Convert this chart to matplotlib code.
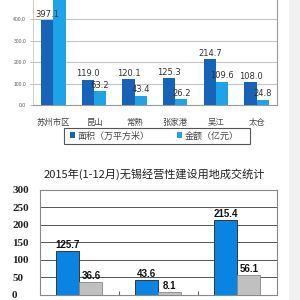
import matplotlib
matplotlib.use("Agg")
import matplotlib.pyplot as plt
import numpy as np
from matplotlib.patches import Rectangle

plt.rcParams['font.family'] = ['Noto Sans CJK SC', 'DejaVu Sans']

# ---- top chart data ----
top_categories = ["苏州市区", "昆山", "常熟", "张家港", "吴江", "太仓"]
top_area = [397.1, 119.0, 120.1, 125.3, 214.7, 108.0]
top_amount = [560.0, 63.2, 43.4, 26.2, 109.6, 24.8]
top_series = ["面积（万平方米）", "金额（亿元）"]
top_yticks = [0, 100, 200, 300, 400, 500]

# ---- bottom chart data ----
bottom_title = "2015年(1-12月)无锡经营性建设用地成交统计"
bottom_area = [125.7, 43.6, 215.4]
bottom_amount = [36.6, 8.1, 56.1]
bottom_yticks = [0, 50, 100, 150, 200, 250, 300]

fig = plt.figure(figsize=(3, 3), dpi=100)
fig.patch.set_facecolor("white")
fig.patches.append(Rectangle((0.963, 0), 0.037, 1, transform=fig.transFigure,
                             facecolor="#f1f1f1", edgecolor="none", zorder=0))

# ---------- top axes ----------
ymax_top = 505
ax1 = fig.add_axes([0.11, 0.65, 0.813, ymax_top * 21.4 / 100 / 300])
x = np.arange(len(top_categories))
w = 0.3
dark = "#1763b8"
light = "#1fa3e8"
b1 = ax1.bar(x - w / 2, top_area, w, color=dark, zorder=3, label=top_series[0])
b2 = ax1.bar(x + w / 2, top_amount, w, color=light, zorder=3, label=top_series[1])
ax1.set_xlim(-0.5, len(top_categories) - 0.5)
ax1.set_ylim(0, ymax_top)
ax1.set_yticks(top_yticks)
ax1.set_yticklabels([f"{v:.1f}" for v in top_yticks], fontsize=3.6,
                    color="#555555", family="Liberation Sans")
ax1.set_xticks(x)
ax1.set_xticklabels(top_categories, fontsize=6, color="#444444")
ax1.tick_params(axis="x", length=0, pad=9)
ax1.tick_params(axis="y", length=2, width=0.6, color="#c0a89a", pad=3)
ax1.grid(axis="y", color="#c4c4c4", linewidth=0.8, zorder=0)
ax1.spines["top"].set_visible(False)
ax1.spines["left"].set_color("#d8c4b8")
ax1.spines["left"].set_linewidth(0.6)
ax1.spines["right"].set_color("#9a9a9a")
ax1.spines["right"].set_linewidth(0.8)
ax1.spines["bottom"].set_color("#9a9a9a")
ax1.spines["bottom"].set_linewidth(0.8)
for bars, vals in ((b1, top_area), (b2, top_amount)):
    for r, v in zip(bars, vals):
        if v + 30 > ymax_top:
            continue  # label lies above the visible area
        ax1.text(r.get_x() + r.get_width() / 2, v + 6, f"{v:.1f}", ha="center",
                 va="bottom", fontsize=6, color="#333333", family="DejaVu Sans",
                 zorder=4)
leg = fig.legend(handles=[b1, b2], loc="center", bbox_to_anchor=(0.515, 0.547),
                 ncol=2, fontsize=6.5, frameon=False,
                 handlelength=0.6, handleheight=0.6, handletextpad=0.3,
                 columnspacing=3.0, borderpad=0.3, borderaxespad=0)
for t in leg.get_texts():
    t.set_color("#444444")
fig.patches.append(Rectangle((64 / 300, 1 - 144 / 300), 186 / 300, 16 / 300,
                             transform=fig.transFigure, facecolor="none",
                             edgecolor="#555555", linewidth=0.8, zorder=5))

# ---------- bottom axes ----------
fig.text(0.515, 0.42, bottom_title, ha="center", va="center", fontsize=8,
         color="#222222")
ax2 = fig.add_axes([0.133, 0.0167, 0.79, 0.35])
x2 = np.arange(len(bottom_area))
w2 = 0.29
c1 = ax2.bar(x2 - w2 / 2, bottom_area, w2, color="#0a84e2", edgecolor="#222222",
             linewidth=0.6, zorder=3)
c2 = ax2.bar(x2 + w2 / 2, bottom_amount, w2, color="#c0c0c0", edgecolor="#888888",
             linewidth=0.6, zorder=3)
ax2.set_xlim(-0.5, len(bottom_area) - 0.5)
ax2.set_ylim(0, 300)
ax2.set_yticks(bottom_yticks)
ax2.set_yticklabels([str(v) for v in bottom_yticks], fontsize=8,
                    family="Liberation Serif", fontweight="bold", color="#222222")
ax2.set_xticks(x2[:-1] + 0.5)
ax2.set_xticklabels([])
ax2.tick_params(axis="x", direction="in", length=3, color="#666666")
ax2.tick_params(axis="y", length=0, pad=20)
for lab in ax2.get_yticklabels():
    lab.set_horizontalalignment("left")
ax2.grid(axis="y", color="#555555", linewidth=0.7, zorder=0)
for s in ax2.spines.values():
    s.set_color("#888888")
    s.set_linewidth(0.8)
for bars, vals in ((c1, bottom_area), (c2, bottom_amount)):
    for r, v in zip(bars, vals):
        ax2.text(r.get_x() + r.get_width() / 2, v + 3, f"{v:.1f}", ha="center",
                 va="bottom", fontsize=7, fontweight="bold", color="#111111",
                 family="Liberation Sans", zorder=4)

fig.savefig("out.png", dpi=100)
